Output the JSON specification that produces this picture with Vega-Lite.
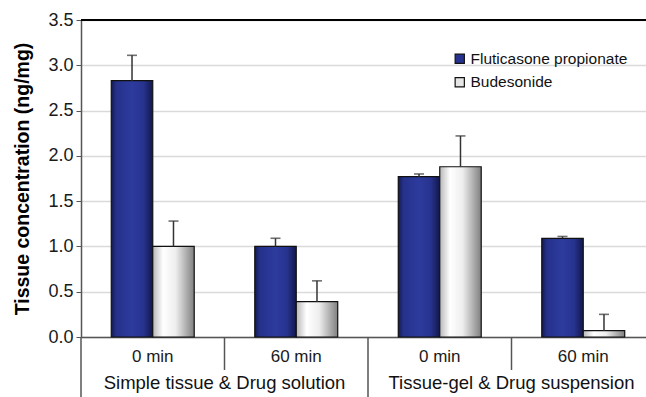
{
  "$schema": "https://vega.github.io/schema/vega-lite/v6.json",
  "width": 565,
  "height": 317,
  "autosize": {"type": "none"},
  "padding": {"left": 81, "top": 20, "right": 0, "bottom": 60},
  "config": {
    "font": "Liberation Sans",
    "view": {"stroke": null},
    "axis": {"labelColor": "#1a1a1a", "titleColor": "#000000"}
  },
  "data": {
    "values": [
      {"group": "Simple tissue & Drug solution", "time": "0 min", "slot": "S|0 min", "series": "Fluticasone propionate", "value": 2.83, "upper": 3.11},
      {"group": "Simple tissue & Drug solution", "time": "0 min", "slot": "S|0 min", "series": "Budesonide", "value": 1.0, "upper": 1.28},
      {"group": "Simple tissue & Drug solution", "time": "60 min", "slot": "S|60 min", "series": "Fluticasone propionate", "value": 1.0, "upper": 1.09},
      {"group": "Simple tissue & Drug solution", "time": "60 min", "slot": "S|60 min", "series": "Budesonide", "value": 0.39, "upper": 0.62},
      {"group": "Tissue-gel & Drug suspension", "time": "0 min", "slot": "G|0 min", "series": "Fluticasone propionate", "value": 1.77, "upper": 1.8},
      {"group": "Tissue-gel & Drug suspension", "time": "0 min", "slot": "G|0 min", "series": "Budesonide", "value": 1.88, "upper": 2.22},
      {"group": "Tissue-gel & Drug suspension", "time": "60 min", "slot": "G|60 min", "series": "Fluticasone propionate", "value": 1.09, "upper": 1.11},
      {"group": "Tissue-gel & Drug suspension", "time": "60 min", "slot": "G|60 min", "series": "Budesonide", "value": 0.07, "upper": 0.25}
    ]
  },
  "layer": [
    {
      "transform": [{"filter": "datum.series === 'Fluticasone propionate'"}],
      "mark": {
        "type": "bar",
        "stroke": "#111111",
        "strokeWidth": 1.2,
        "fill": {
          "gradient": "linear", "x1": 0, "x2": 1, "y1": 0, "y2": 0,
          "stops": [
            {"offset": 0, "color": "#141a52"},
            {"offset": 0.12, "color": "#25318a"},
            {"offset": 0.5, "color": "#2d3b9e"},
            {"offset": 0.78, "color": "#27338e"},
            {"offset": 1, "color": "#12174c"}
          ]
        }
      },
      "encoding": {
        "x": {
          "field": "slot", "type": "nominal",
          "sort": ["S|0 min", "S|60 min", "G|0 min", "G|60 min"],
          "scale": {"range": [0, 574], "paddingInner": 0, "paddingOuter": 0},
          "axis": {
            "title": null,
            "labelExpr": "split(datum.label, '|')[1]",
            "labelAngle": 0,
            "labelFontSize": 17,
            "labelPadding": 11,
            "ticks": false,
            "domainColor": "#555555",
            "domainWidth": 1.5
          }
        },
        "xOffset": {
          "field": "series", "type": "nominal",
          "sort": ["Fluticasone propionate", "Budesonide"],
          "scale": {"paddingInner": 0, "paddingOuter": 0.73}
        },
        "y": {
          "field": "value", "type": "quantitative",
          "scale": {"domain": [0, 3.5], "nice": false},
          "axis": {
            "title": "Tissue concentration (ng/mg)",
            "titleFontSize": 19.5,
            "titleFontWeight": "bold",
            "titlePadding": 15,
            "values": [0, 0.5, 1, 1.5, 2, 2.5, 3, 3.5],
            "format": ".1f",
            "labelFontSize": 18,
            "labelPadding": 3,
            "tickSize": 5,
            "tickColor": "#555555",
            "domainColor": "#555555",
            "domainWidth": 1.5,
            "gridColor": "#dadada",
            "gridWidth": 1.5
          }
        }
      }
    },
    {
      "transform": [{"filter": "datum.series === 'Budesonide'"}],
      "mark": {
        "type": "bar",
        "stroke": "#111111",
        "strokeWidth": 1.2,
        "fill": {
          "gradient": "linear", "x1": 0, "x2": 1, "y1": 0, "y2": 0,
          "stops": [
            {"offset": 0, "color": "#b8b8b8"},
            {"offset": 0.25, "color": "#ffffff"},
            {"offset": 0.55, "color": "#eeeeee"},
            {"offset": 1, "color": "#808080"}
          ]
        }
      },
      "encoding": {
        "x": {"field": "slot", "type": "nominal", "sort": ["S|0 min", "S|60 min", "G|0 min", "G|60 min"]},
        "xOffset": {"field": "series", "type": "nominal", "sort": ["Fluticasone propionate", "Budesonide"]},
        "y": {"field": "value", "type": "quantitative"}
      }
    },
    {
      "mark": {"type": "rule", "color": "#333333", "strokeWidth": 1.5},
      "encoding": {
        "x": {"field": "slot", "type": "nominal", "sort": ["S|0 min", "S|60 min", "G|0 min", "G|60 min"]},
        "xOffset": {"field": "series", "type": "nominal", "sort": ["Fluticasone propionate", "Budesonide"]},
        "y": {"field": "value", "type": "quantitative"},
        "y2": {"field": "upper"}
      }
    },
    {
      "mark": {"type": "tick", "orient": "horizontal", "color": "#333333", "size": 10, "thickness": 1.6},
      "encoding": {
        "x": {"field": "slot", "type": "nominal", "sort": ["S|0 min", "S|60 min", "G|0 min", "G|60 min"]},
        "xOffset": {"field": "series", "type": "nominal", "sort": ["Fluticasone propionate", "Budesonide"]},
        "y": {"field": "upper", "type": "quantitative"}
      }
    },
    {
      "mark": {"type": "point", "shape": "square", "filled": true, "opacity": 0},
      "encoding": {
        "x": {"field": "slot", "type": "nominal", "sort": ["S|0 min", "S|60 min", "G|0 min", "G|60 min"]},
        "xOffset": {"field": "series", "type": "nominal", "sort": ["Fluticasone propionate", "Budesonide"]},
        "y": {"field": "value", "type": "quantitative"},
        "color": {
          "field": "series", "type": "nominal",
          "scale": {"domain": ["Fluticasone propionate", "Budesonide"], "range": ["#27328e", "#e6e6e6"]},
          "legend": {
            "title": null,
            "orient": "none",
            "legendX": 371,
            "legendY": 31,
            "symbolType": "square",
            "symbolSize": 85,
            "symbolOpacity": 1,
            "symbolStrokeColor": "#111111",
            "symbolStrokeWidth": 1.2,
            "labelFontSize": 15.5,
            "labelLimit": 400,
            "labelColor": "#111111",
            "labelOffset": 3,
            "rowPadding": 6.5
          }
        }
      }
    },
    {
      "transform": [{"filter": "datum.series === 'Fluticasone propionate' && datum.time === '0 min'"}],
      "mark": {"type": "rule", "color": "#555555", "strokeWidth": 1.5},
      "encoding": {
        "x": {"field": "slot", "type": "nominal", "bandPosition": 0, "sort": ["S|0 min", "S|60 min", "G|0 min", "G|60 min"]},
        "y": {"datum": 0},
        "y2": {"datum": -0.665}
      }
    },
    {
      "transform": [{"filter": "datum.series === 'Fluticasone propionate' && datum.time === '60 min'"}],
      "mark": {"type": "rule", "color": "#555555", "strokeWidth": 1.5},
      "encoding": {
        "x": {"field": "slot", "type": "nominal", "bandPosition": 0, "sort": ["S|0 min", "S|60 min", "G|0 min", "G|60 min"]},
        "y": {"datum": 0},
        "y2": {"datum": -0.364}
      }
    },
    {
      "transform": [{"filter": "datum.series === 'Fluticasone propionate' && datum.time === '60 min'"}],
      "mark": {"type": "text", "fontSize": 18.5, "color": "#111111", "baseline": "middle", "align": "center"},
      "encoding": {
        "x": {"field": "slot", "type": "nominal", "bandPosition": 0, "sort": ["S|0 min", "S|60 min", "G|0 min", "G|60 min"]},
        "y": {"datum": -0.51},
        "text": {"field": "group"}
      }
    },
    {
      "mark": {"type": "rule", "color": "#000000", "strokeWidth": 1.5},
      "encoding": {"y": {"datum": 3.5}}
    }
  ]
}
